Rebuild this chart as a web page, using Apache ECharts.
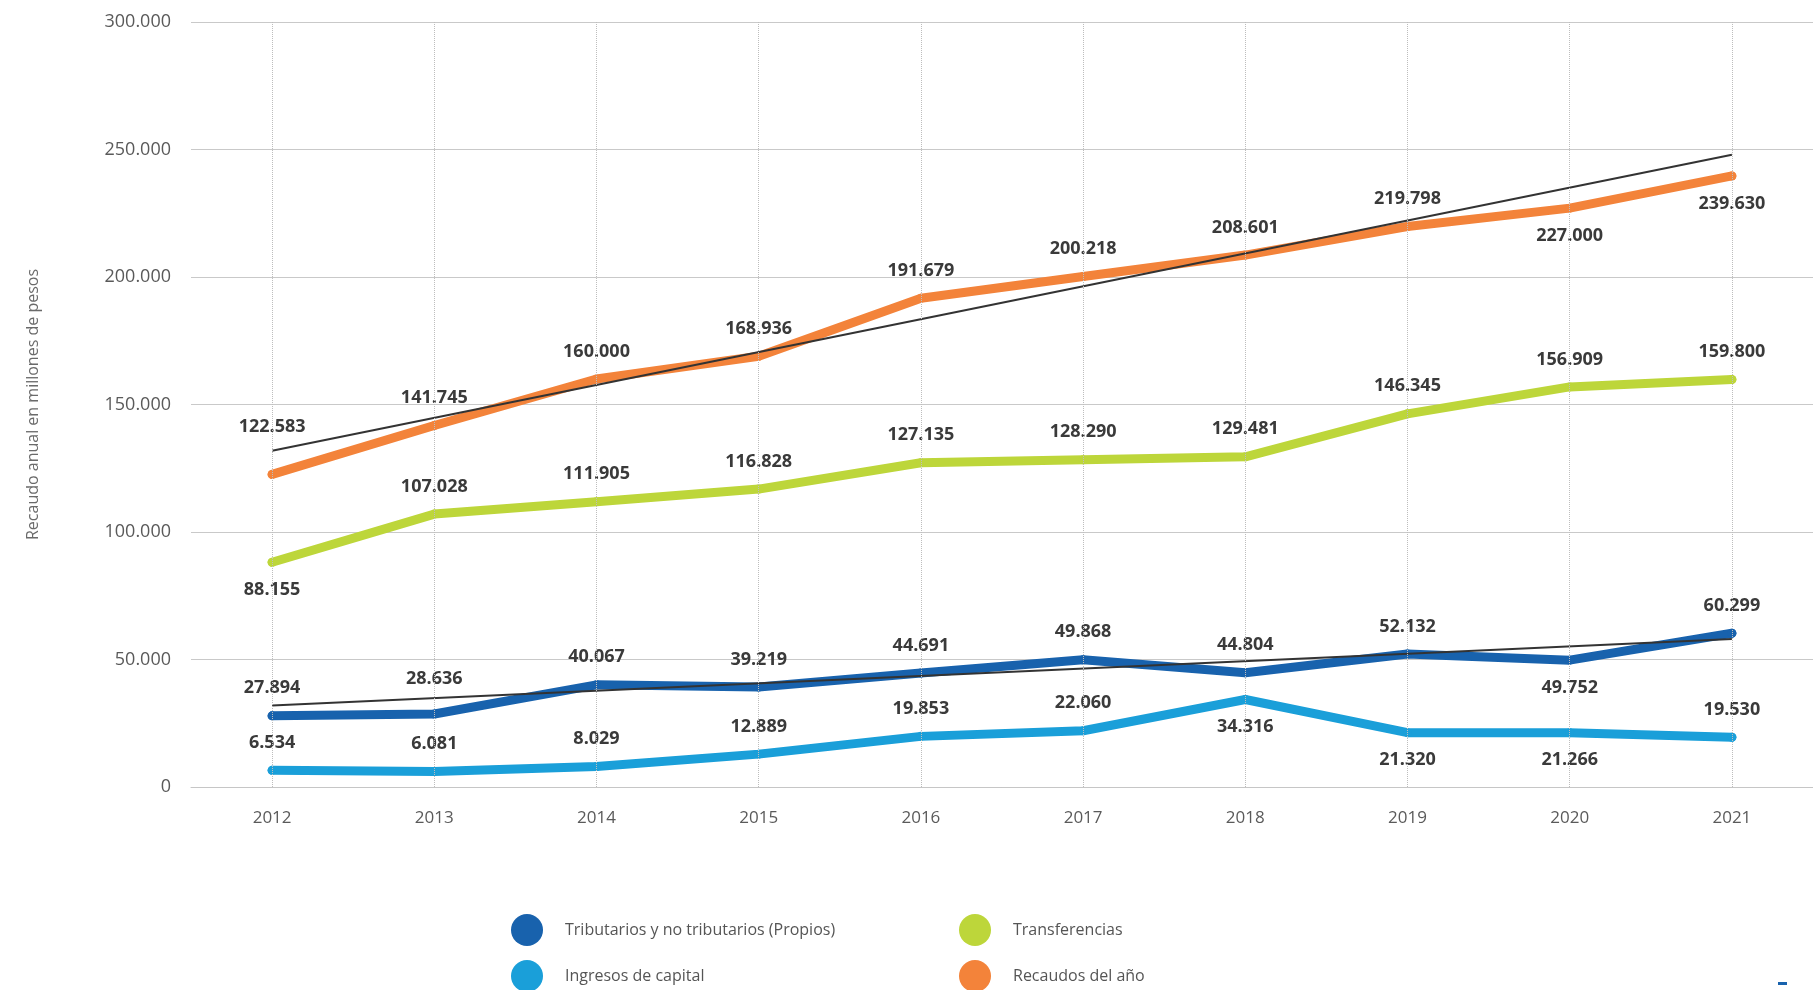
<!DOCTYPE html>
<html>
<head>
<meta charset="utf-8">
<script src="https://cdn.jsdelivr.net/npm/echarts@6/dist/echarts.min.js"></script>
<style>
  html, body { margin: 0; padding: 0; background: #fff; }
  #chart { width: 1813px; height: 990px; }
</style>
</head>
<body>
<div id="chart"></div>
<script>
// Annual revenue (millions of pesos), 2012-2021
const years = ['2012', '2013', '2014', '2015', '2016', '2017', '2018', '2019', '2020', '2021'];
const propios = [27894, 28636, 40067, 39219, 44691, 49868, 44804, 52132, 49752, 60299];
const capital = [6534, 6081, 8029, 12889, 19853, 22060, 34316, 21320, 21266, 19530];
const transferencias = [88155, 107028, 111905, 116828, 127135, 128290, 129481, 146345, 156909, 159800];
const recaudos = [122583, 141745, 160000, 168936, 191679, 200218, 208601, 219798, 227000, 239630];

// Trend lines: values at first and last year
const tendenciaRecaudos = [131900, 247900];
const tendenciaPropios = [32000, 58000];

// Value axis ticks
const yTicks = [0, 50000, 100000, 150000, 200000, 250000, 300000];

const names = {
  propios: 'Tributarios y no tributarios (Propios)',
  capital: 'Ingresos de capital',
  transferencias: 'Transferencias',
  recaudos: 'Recaudos del año'
};

const colors = {
  propios: '#1862ad',
  capital: '#1a9fd9',
  transferencias: '#bdd63a',
  recaudos: '#f3833a',
  trend: '#333333'
};

// Which side of the line each value label sits on
const labelSide = {
  propios: ['top', 'top', 'top', 'top', 'top', 'top', 'top', 'top', 'bottom', 'top'],
  capital: ['top', 'top', 'top', 'top', 'top', 'top', 'bottom', 'bottom', 'bottom', 'top'],
  transferencias: ['bottom', 'top', 'top', 'top', 'top', 'top', 'top', 'top', 'top', 'top'],
  recaudos: ['top', 'top', 'top', 'top', 'top', 'top', 'top', 'top', 'bottom', 'bottom']
};
// Extra lift for labels that would collide with a trend line
const labelLift = { recaudos: { 0: 34 }, propios: { 1: 22 } };

const FONT = "'Open Sans', 'DejaVu Sans', sans-serif";

function fmt(v) {
  return String(Math.round(v)).replace(/\B(?=(\d{3})+(?!\d))/g, '.');
}

function valueLine(key, values) {
  const color = colors[key];
  const lift = labelLift[key] || {};
  return {
    name: names[key],
    type: 'line',
    z: 3,
    symbol: 'circle',
    symbolSize: 9,
    showSymbol: true,
    lineStyle: { width: 9, color: color, cap: 'round', join: 'round' },
    itemStyle: { color: color, borderWidth: 0 },
    emphasis: { disabled: true },
    label: {
      show: true,
      distance: 14,
      color: '#3a3a3a',
      fontFamily: FONT,
      fontWeight: 'bold',
      fontSize: 18,
      formatter: p => fmt(p.value)
    },
    data: values.map((v, i) => ({
      value: v,
      label: { position: labelSide[key][i], distance: lift[i] || 14 }
    }))
  };
}

function trendLine(name, ends) {
  return {
    name: name,
    type: 'line',
    z: 4,
    silent: true,
    symbol: 'none',
    lineStyle: { width: 2, color: colors.trend },
    emphasis: { disabled: true },
    data: [[years[0], ends[0]], [years[years.length - 1], ends[1]]]
  };
}

// One legend entry per component so they sit in a 2x2 block
function legendItem(key, left, top) {
  return {
    left: left, top: top, orient: 'horizontal',
    itemWidth: 32, itemHeight: 32, icon: 'circle',
    data: [names[key]],
    textStyle: { fontSize: 16, color: '#555555', fontFamily: FONT, padding: [0, 0, 0, 17] },
    selectedMode: false
  };
}

const chart = echarts.init(document.getElementById('chart'), null, { renderer: 'canvas' });

chart.setOption({
  animation: false,
  backgroundColor: '#ffffff',
  grid: { left: 191, right: 0, top: 22, bottom: 203, containLabel: false },
  xAxis: {
    type: 'category',
    data: years,
    boundaryGap: true,
    axisLine: { show: true, lineStyle: { color: '#c6c6c6', width: 1 } },
    axisTick: { show: false },
    splitLine: { show: false },
    axisLabel: { margin: 23, fontSize: 17, color: '#5a5a5a', fontFamily: FONT }
  },
  yAxis: {
    type: 'value',
    min: yTicks[0],
    max: yTicks[yTicks.length - 1],
    interval: yTicks[1] - yTicks[0],
    axisLine: { show: false },
    axisTick: { show: false },
    splitLine: { show: true, lineStyle: { color: '#c9c9c9', width: 1 } },
    axisLabel: { margin: 20, fontSize: 18, color: '#5a5a5a', fontFamily: FONT, formatter: fmt },
    name: 'Recaudo anual en millones de pesos',
    nameLocation: 'middle',
    nameGap: 150,
    nameRotate: 90,
    nameTextStyle: { fontSize: 16, color: '#6a6a6a', fontFamily: FONT }
  },
  legend: [
    legendItem('propios', 506, 909),
    legendItem('capital', 506, 955),
    legendItem('transferencias', 954, 909),
    legendItem('recaudos', 954, 955)
  ],
  graphic: [
    { type: 'rect', left: 1778, top: 982, shape: { width: 9, height: 3 }, style: { fill: colors.propios }, silent: true }
  ],
  series: [
    {
      name: 'guides',
      type: 'line',
      z: 1,
      silent: true,
      data: [],
      markLine: {
        silent: true,
        symbol: ['none', 'none'],
        label: { show: false },
        emphasis: { disabled: true },
        lineStyle: { type: 'dotted', color: '#bdbdbd', width: 1 },
        data: years.map(y => ({ xAxis: y }))
      }
    },
    valueLine('capital', capital),
    valueLine('propios', propios),
    valueLine('transferencias', transferencias),
    valueLine('recaudos', recaudos),
    trendLine('Tendencia recaudos', tendenciaRecaudos),
    trendLine('Tendencia propios', tendenciaPropios)
  ]
});
</script>
</body>
</html>
